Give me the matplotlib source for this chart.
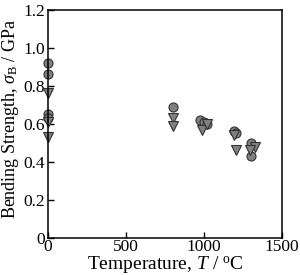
import matplotlib
matplotlib.use('Agg')
from matplotlib import pyplot as plt

plt.rcParams['font.family'] = ['Liberation Serif', 'DejaVu Serif']
plt.rcParams['mathtext.fontset'] = 'custom'
plt.rcParams['mathtext.rm'] = 'Liberation Serif'
plt.rcParams['mathtext.it'] = 'Liberation Serif:italic'

# circles
circ_T = [0, 0, 0, 0, 800, 975, 1000, 1020, 1190, 1205, 1300, 1300]
circ_s = [0.92, 0.86, 0.65, 0.63, 0.69, 0.62, 0.61, 0.60, 0.56, 0.55, 0.50, 0.43]
# triangles
tri_T = [0, 0, 0, 800, 800, 990, 1020, 1195, 1205, 1330, 1295]
tri_s = [0.76, 0.61, 0.53, 0.63, 0.59, 0.57, 0.60, 0.54, 0.46, 0.48, 0.46]

xticks = [0, 500, 1000, 1500]
yticks = [0, 0.2, 0.4, 0.6, 0.8, 1.0, 1.2]
yticklabels = ['0', '0.2', '0.4', '0.6', '0.8', '1.0', '1.2']

fig = plt.figure(figsize=(3.0, 2.75), dpi=100)
ax = fig.add_axes([0.16, 0.135, 0.78, 0.829])

ax.plot(circ_T, circ_s, 'o', ms=6.5, mfc='#808080', mec='#333333', mew=0.8, clip_on=False)
ax.plot(tri_T, tri_s, 'v', ms=7, mfc='#808080', mec='#333333', mew=0.8, clip_on=False)

ax.set_xlim(0, 1500)
ax.set_ylim(0, 1.2)
ax.set_xticks(xticks)
ax.set_xticklabels([str(t) for t in xticks])
ax.set_yticks(yticks)
ax.set_yticklabels(yticklabels)
ax.tick_params(direction='in', length=4, width=1, labelsize=12.5)
ax.tick_params(axis='y', pad=2)
ax.tick_params(axis='x', pad=1)
for s in ax.spines.values():
    s.set_linewidth(1.1)

ax.set_xlabel(r'Temperature, $T$ / $^\mathrm{o}$C', fontsize=14)
ax.xaxis.set_label_coords(0.5, -0.072)
ax.xaxis.label.set_va('top')
ax.set_ylabel(r'Bending Strength, $\sigma_\mathrm{B}$ / GPa', fontsize=13)
ax.yaxis.set_label_coords(-0.115, 0.52)

fig.savefig('out.png', dpi=100)
